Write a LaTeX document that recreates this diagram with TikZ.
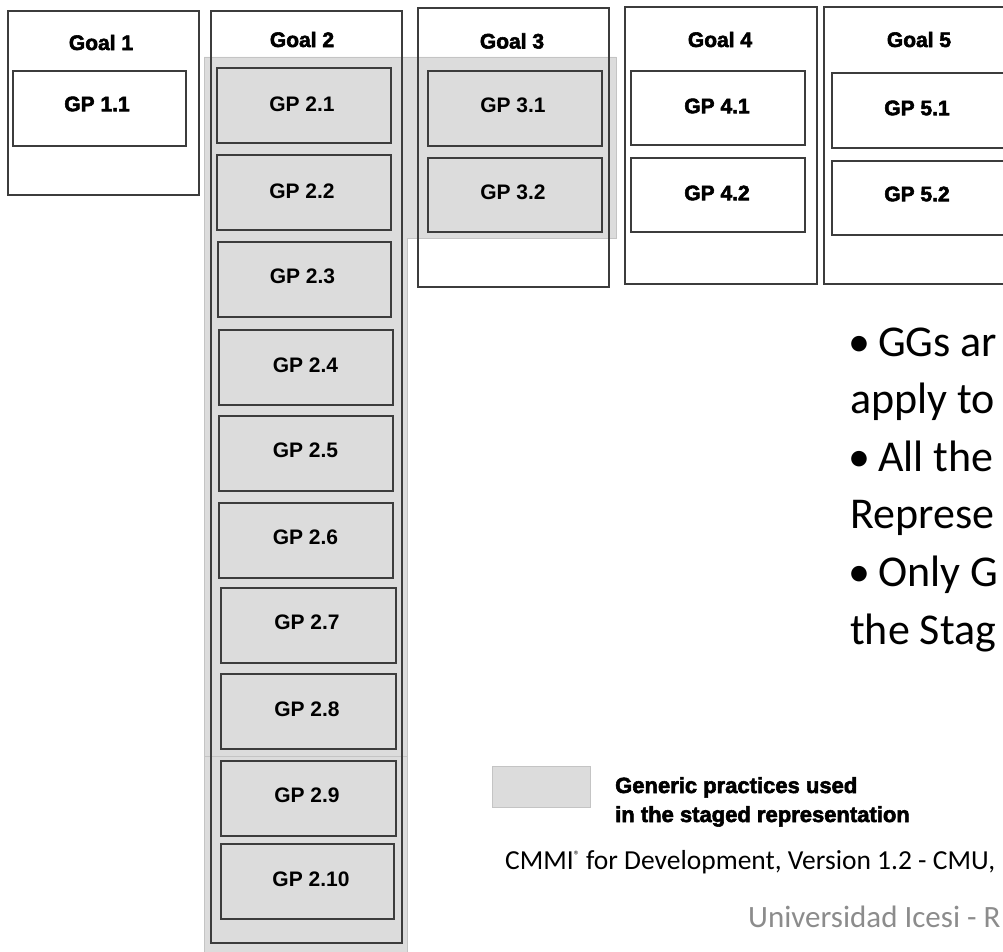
\documentclass[tikz,border=0pt]{standalone}
\usepackage{fontspec}
\setmainfont{Liberation Sans}
\newfontfamily\heavy{Liberation Sans}[BoldFeatures={FakeBold=2.6}]
\newfontfamily\calibri{Carlito}
\usetikzlibrary{fit}
\definecolor{boxline}{HTML}{3C3C3C}
\definecolor{shade}{HTML}{DCDCDC}
\definecolor{shadeline}{HTML}{C4C4C4}
\definecolor{footgray}{HTML}{8C8C8C}
\begin{document}
\begin{tikzpicture}[x=1pt,y=-1pt,
  box/.style={draw=boxline, line width=1.1pt, inner sep=0pt, outer sep=0pt},
  lbl/.style={inner sep=0pt, font=\fontsize{21}{25}\selectfont\bfseries},
  hlbl/.style={inner sep=0pt, font=\heavy\fontsize{21}{25}\selectfont\bfseries},
  slide/.style={inner sep=0pt, anchor=base west, font=\calibri\fontsize{44}{53}\selectfont},
  legendtxt/.style={inner sep=0pt, anchor=base west, font=\heavy\fontsize{22}{29}\selectfont\bfseries},
]
\useasboundingbox (0,0) rectangle (1003,952);
\clip (0,0) rectangle (1003,952);
% shaded region (generic practices used in the staged representation)
\filldraw[fill=shade, draw=shadeline, line width=0.8pt]
  (204,57) -- (616,57) -- (616,238) -- (407,238) -- (407,960) -- (204,960) -- cycle;
\draw[shadeline, line width=0.8pt] (204,756) -- (407,756);

% Goal 1
\node[box, fit={(8,11) (199,195)}] (goal1) {};
\node[box, fit={(13,71) (186,146)}] (gp11) {};
\node[hlbl] (goal1t) at (101,42.5) {Goal 1};
\node[hlbl] (gp11t) at (97,104) {GP 1.1};

% Goal 2
\node[box, fit={(211,11) (402,943)}] (goal2) {};
\node[hlbl] (goal2t) at (302,39.5) {Goal 2};
\node[box, fit={(217,68) (391,143)}] (gp21) {};
\node[box, fit={(217,155) (391,230)}] (gp22) {};
\node[box, fit={(218,242) (391,317)}] (gp23) {};
\node[box, fit={(219,330) (393,405)}] (gp24) {};
\node[box, fit={(219,416) (393,491)}] (gp25) {};
\node[box, fit={(219,503) (393,578)}] (gp26) {};
\node[box, fit={(221,588) (396,663)}] (gp27) {};
\node[box, fit={(221,674) (396,749)}] (gp28) {};
\node[box, fit={(221,761) (396,836)}] (gp29) {};
\node[box, fit={(221,844) (394,919)}] (gp210) {};
\node[lbl] (gp21t) at (302,104) {GP 2.1};
\node[lbl] (gp22t) at (302,191) {GP 2.2};
\node[lbl] (gp23t) at (302.5,276) {GP 2.3};
\node[lbl] (gp24t) at (305.5,365) {GP 2.4};
\node[lbl] (gp25t) at (305.5,450) {GP 2.5};
\node[lbl] (gp26t) at (305.5,537) {GP 2.6};
\node[lbl] (gp27t) at (307,622) {GP 2.7};
\node[lbl] (gp28t) at (307,709) {GP 2.8};
\node[lbl] (gp29t) at (307,795) {GP 2.9};
\node[lbl] (gp210t) at (311,879) {GP 2.10};

% Goal 3
\node[box, fit={(418,8) (609,287)}] (goal3) {};
\node[box, fit={(428,71) (602,146)}] (gp31) {};
\node[box, fit={(428,158) (602,232)}] (gp32) {};
\node[hlbl] (goal3t) at (512,41) {Goal 3};
\node[lbl] (gp31t) at (513,105) {GP 3.1};
\node[lbl] (gp32t) at (513,192) {GP 3.2};

% Goal 4
\node[box, fit={(625,7) (817,284)}] (goal4) {};
\node[box, fit={(631,71) (805,145)}] (gp41) {};
\node[box, fit={(631,158) (805,232)}] (gp42) {};
\node[hlbl] (goal4t) at (720,39.5) {Goal 4};
\node[hlbl] (gp41t) at (717,106) {GP 4.1};
\node[hlbl] (gp42t) at (717,193) {GP 4.2};

% Goal 5
\node[box, fit={(824,7) (1030,284)}] (goal5) {};
\node[box, fit={(832,73) (1020,148)}] (gp51) {};
\node[box, fit={(832,161) (1020,235)}] (gp52) {};
\node[hlbl] (goal5t) at (919,39.5) {Goal 5};
\node[hlbl] (gp51t) at (917,108) {GP 5.1};
\node[hlbl] (gp52t) at (917,194) {GP 5.2};

% slide text
\node[slide] (b1) at (848,356) {\makebox[30pt][l]{•}GGs ar};
\node[slide] (b2) at (850,413) {apply to};
\node[slide] (b3) at (848,471) {\makebox[30pt][l]{•}All the};
\node[slide] (b4) at (850,528) {Represe};
\node[slide] (b5) at (848,586) {\makebox[30pt][l]{•}Only G};
\node[slide] (b6) at (850,644) {the Stag};

% legend
\node[fill=shade, draw=shadeline, line width=0.8pt, inner sep=0pt, fit={(492,766) (590,807)}] (swatch) {};
\node[legendtxt] (leg1) at (615,793) {Generic practices used};
\node[legendtxt] (leg2) at (615,822) {in the staged representation};

% footer
\node[inner sep=0pt, anchor=base west, font=\calibri\fontsize{27.5}{32}\selectfont] (cite) at (505,869)
  {CMMI\raisebox{10pt}{\fontsize{12}{12}\selectfont ®} for Development, Version 1.2 - CMU,};
\node[inner sep=0pt, anchor=base west, text=footgray, font=\calibri\fontsize{31}{36}\selectfont] (uni) at (748,927)
  {Universidad Icesi - R};
\end{tikzpicture}
\end{document}
